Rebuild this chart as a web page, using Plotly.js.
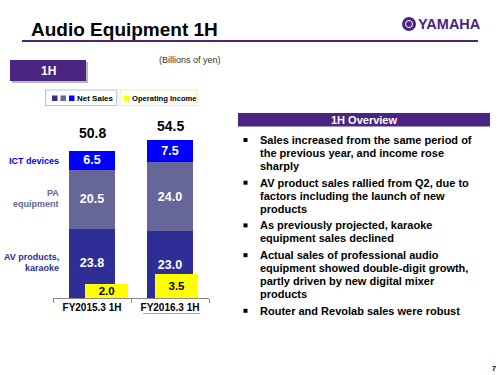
<!DOCTYPE html>
<html><head><meta charset="utf-8">
<script src="https://cdn.plot.ly/plotly-3.0.1.min.js"></script>
<style>html,body{margin:0;padding:0;background:#fff}</style>
</head><body><div id="chart" style="width:500px;height:375px"></div>
<script>
// ---- data ----
const categories = ['FY2015.3 1H', 'FY2016.3 1H'];
const avKaraoke = [23.8, 23.0];
const paEquipment = [20.5, 24.0];
const ictDevices = [6.5, 7.5];
const netSalesTotal = [50.8, 54.5];
const operatingIncome = [2.0, 3.5];
const segmentLabels = [['AV products,', 'karaoke'], ['PA', 'equipment'], ['ICT devices']];
const overviewBullets = [
  ['Sales increased from the same period of', 'the previous year, and income rose', 'sharply'],
  ['AV product sales rallied from Q2, due to', 'factors including the launch of new', 'products'],
  ['As previously projected, karaoke', 'equipment sales declined'],
  ['Actual sales of professional audio', 'equipment showed double-digit growth,', 'partly driven by new digital mixer', 'products'],
  ['Router and Revolab sales were robust']
];

// ---- layout helpers (pixel -> paper) ----
const L = 53, R = 209, T = 100, B = 298;
const X = px => (px - L) / (R - L);
const Y = py => (B - py) / (B - T);
const FONT = 'Liberation Sans, Arial, Helvetica, sans-serif';
const PURPLE = '#4a2582';
const C_AV = '#2e2e96', C_PA = '#666699', C_ICT = '#0000ff', C_OI = '#ffff00';

const fmt = a => a.map(v => v.toFixed(1));
function seg(name, vals, color) {
  return {
    type: 'bar', name: name, x: categories, y: vals, width: 0.59,
    marker: {color: color, line: {width: 0}},
    text: fmt(vals), texttemplate: '<b>%{text}</b>', textposition: 'inside',
    insidetextanchor: 'middle', constraintext: 'none',
    textfont: {family: FONT, size: 12.5, color: '#ffffff'},
    hoverinfo: 'skip'
  };
}
const traces = [
  seg(segmentLabels[0].join(' '), avKaraoke, C_AV),
  seg(segmentLabels[1].join(' '), paEquipment, C_PA),
  seg(segmentLabels[2].join(' '), ictDevices, C_ICT),
  {
    type: 'bar', name: 'Operating Income', x: categories, y: operatingIncome, yaxis: 'y2',
    width: 0.555, offset: [-0.09, -0.19],
    marker: {color: C_OI, line: {width: 0}},
    text: fmt(operatingIncome), texttemplate: '<b>%{text}</b>', textposition: 'inside',
    insidetextanchor: 'middle', constraintext: 'none',
    textfont: {family: FONT, size: 11.5, color: '#000000'},
    hoverinfo: 'skip'
  }
];

const shapes = [];
const ann = [];
function rect(x0, y0, x1, y1, fill, line, lw) {
  shapes.push({type: 'rect', xref: 'paper', yref: 'paper', x0: X(x0), x1: X(x1), y0: Y(y1), y1: Y(y0),
    fillcolor: fill, line: {color: line || fill, width: lw === undefined ? 0 : lw}, layer: 'above'});
}
function text(t, px, py, size, color, xanchor, bold) {
  ann.push({xref: 'paper', yref: 'paper', x: X(px), y: Y(py), xanchor: xanchor || 'left', yanchor: 'middle',
    text: bold === false ? t : '<b>' + t + '</b>', showarrow: false,
    font: {family: FONT, size: size, color: color}});
}

// title + rule
text('Audio Equipment 1H', 29, 30, 19, '#000000');
shapes.push({type: 'line', xref: 'paper', yref: 'paper', x0: X(22), x1: X(478), y0: Y(41), y1: Y(41),
  line: {color: PURPLE, width: 2}});
// logo
shapes.push({type: 'circle', xref: 'paper', yref: 'paper', x0: X(402), x1: X(416), y0: Y(31), y1: Y(17),
  fillcolor: PURPLE, line: {color: PURPLE, width: 0}});
shapes.push({type: 'circle', xref: 'paper', yref: 'paper', x0: X(405.5), x1: X(412.5), y0: Y(27.5), y1: Y(20.5),
  fillcolor: 'rgba(0,0,0,0)', line: {color: '#ffffff', width: 1}});
ann.push({xref: 'paper', yref: 'paper', x: X(416), y: Y(24), xanchor: 'left', yanchor: 'middle',
  text: '<b>YAMAHA</b>', showarrow: false,
  font: {family: FONT, size: 14.5, color: PURPLE}});

// units + 1H tab
text('(Billions of yen)', 157, 60, 9, '#333333', 'left', false);
rect(12, 62, 88, 83, '#b8b8b8');
rect(10, 60, 86, 81, PURPLE);
text('1H', 48, 70.5, 12, '#ffffff', 'center');

// legend
rect(45.7, 90, 116.7, 105.5, '#ffffff', '#a8c8ec', 1.2);
rect(52, 95.5, 57.5, 101, C_AV);
rect(60.5, 95.5, 66, 101, C_PA);
rect(69, 95.5, 74.5, 101, C_ICT);
text('Net Sales', 74.5, 98.3, 8, '#000000');
rect(120, 90, 197, 105.5, '#ffffff', '#f4f0a0', 1.2);
rect(124, 95.5, 129.5, 101, C_OI);
text('Operating Income', 130, 98.3, 7.6, '#000000');

// segment labels
text(segmentLabels[2][0], 60.5, 160.5, 9, C_ICT, 'right');
text(segmentLabels[1][0], 60.5, 193, 9, C_PA, 'right');
text(segmentLabels[1][1], 60.5, 204, 9, C_PA, 'right');
text(segmentLabels[0][0], 60.5, 256.7, 9, C_AV, 'right');
text(segmentLabels[0][1], 60.5, 268.3, 9, C_AV, 'right');

// totals
const totalShift = [7.5, 4];
categories.forEach((c, i) => {
  ann.push({xref: 'x', yref: 'y', x: c, y: netSalesTotal[i], xanchor: 'center', yanchor: 'bottom', yshift: totalShift[i],
    text: '<b>' + netSalesTotal[i].toFixed(1) + '</b>', showarrow: false,
    font: {family: FONT, size: 14, color: '#000000'}});
});
// underline artifact under second category
shapes.push({type: 'line', xref: 'paper', yref: 'paper', x0: X(143), x1: X(200), y0: Y(313.5), y1: Y(313.5),
  line: {color: '#aaaaaa', width: 1}});

// overview panel
rect(238, 113, 490, 126.5, PURPLE);
text('1H Overview', 364, 119.7, 11, '#ffffff', 'center');
let yy = 140;
overviewBullets.forEach((lines, bi) => {
  if (bi > 0) yy += 4;
  rect(243.5, yy - 2, 247.5, yy + 2, '#000000');
  lines.forEach(line => {
    text(line, 257.5, yy, 11, '#000000');
    yy += 12.9;
  });
});

// page number
text('7', 494, 368, 7, '#000000', 'center');

const layout = {
  width: 500, height: 375, autosize: false,
  margin: {l: L, r: 500 - R, t: T, b: 375 - B, pad: 0},
  paper_bgcolor: '#ffffff', plot_bgcolor: 'rgba(0,0,0,0)',
  barmode: 'stack', showlegend: false,
  xaxis: {type: 'category', range: [-0.5, 1.5], showline: true, linecolor: '#888888', linewidth: 1,
    ticks: 'outside', tickson: 'boundaries', ticklen: 4, tickcolor: '#888888',
    showgrid: false, zeroline: false,
    tickfont: {family: FONT, size: 10, color: '#000000', weight: 'bold'}},
  yaxis: {range: [0, (B - T) / 2.9], visible: false, showgrid: false, zeroline: false},
  yaxis2: {range: [0, (B - T) / 6.9], overlaying: 'y', visible: false, showgrid: false, zeroline: false},
  shapes: shapes,
  annotations: ann
};
Plotly.newPlot('chart', traces, layout, {staticPlot: true, displayModeBar: false});
</script></body></html>
